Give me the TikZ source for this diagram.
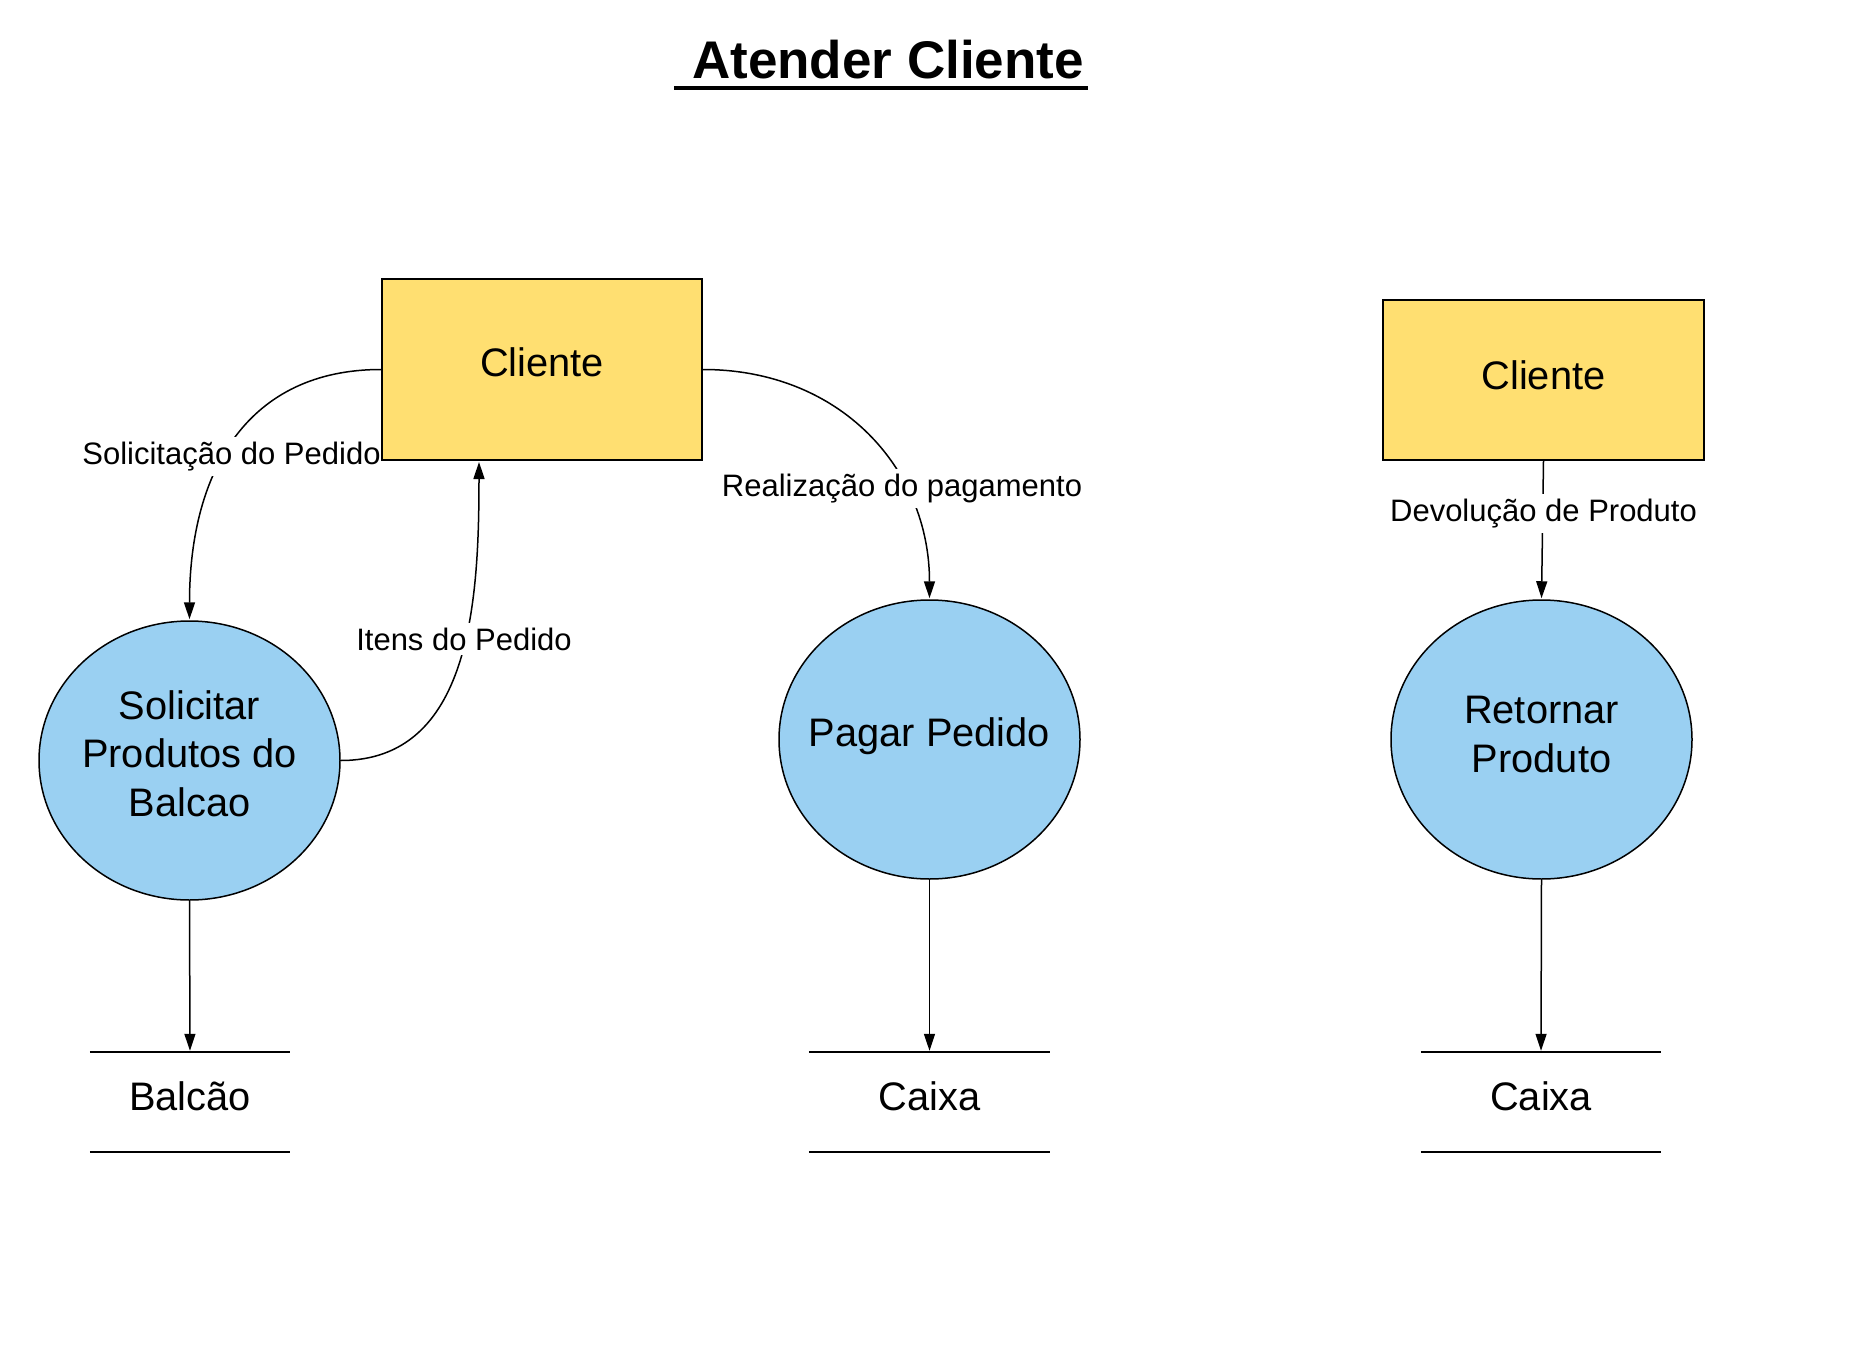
\documentclass[tikz,border=0pt]{standalone}
\usepackage{fontspec}
\setmainfont{Liberation Sans}
\usetikzlibrary{arrows.meta,shapes.geometric,calc}
\pgfdeclarelayer{bg}
\pgfsetlayers{bg,main}
\definecolor{cyellow}{HTML}{FFDF71}
\definecolor{cblue}{HTML}{9AD0F2}
\begin{document}
\begin{tikzpicture}[x=1pt,y=-1pt,
  ent/.style={draw=black, line width=2pt, fill=cyellow, inner sep=0pt,
    font=\fontsize{39.8}{47}\selectfont, text height=28pt},
  proc/.style={ellipse, draw=black, line width=1.5pt, fill=cblue,
    minimum width=301pt, minimum height=279pt, inner sep=0pt},
  ptext/.style={font=\fontsize{39.8}{48.4}\selectfont, align=center, inner sep=0pt},
  store/.style={minimum height=100pt, inner sep=0pt,
    font=\fontsize{39.8}{47}\selectfont, text height=28pt, text depth=12pt},
  storeline/.style={line width=2.5pt},
  flow/.style={line width=1.5pt, -{Triangle[length=17pt,width=11pt]}, shorten >=1pt},
  flowlbl/.style={fill=white, inner xsep=1pt, inner ysep=5pt,
    font=\fontsize{31}{36}\selectfont, anchor=base}
]
\useasboundingbox (0,0) rectangle (1875,1351);

% title
\node[font=\fontsize{53}{60}\selectfont\bfseries, anchor=base west, inner sep=0pt]
  (title) at (692,79) {Atender Cliente};
\draw[line width=3.3pt] (674,88) -- (1088,88);

% external entities
\node[ent, minimum width=320pt, minimum height=181pt, text depth=15pt]
  (b1) at (542,369.5) {Cliente};
\node[ent, minimum width=321pt, minimum height=160pt, text depth=10pt]
  (b2) at (1543.5,380) {Cliente};

% processes
\node[proc, label={[ptext, yshift=7pt]center:Solicitar\\Produtos do\\Balcao}]
  (p1) at (189.5,760.5) {};
\node[proc, label={[ptext, yshift=2.9pt]center:Pagar Pedido}]
  (p2) at (929.5,739.5) {};
\node[proc, label={[ptext, yshift=5pt]center:Retornar\\Produto}]
  (p3) at (1541.5,739.5) {};

% data stores
\node[store, minimum width=200pt] (s1) at (190,1102) {Balcão};
\node[store, minimum width=241pt] (s2) at (929.5,1102) {Caixa};
\node[store, minimum width=240pt] (s3) at (1541,1102) {Caixa};
\foreach \s in {s1,s2,s3}{
  \draw[storeline] (\s.north west) -- (\s.north east);
  \draw[storeline] (\s.south west) -- (\s.south east);
}

% flows
\begin{pgfonlayer}{bg}
\draw[flow] (b1.west) .. controls +(-132,0) and +(0,-151) .. (p1.north);
\draw[flow] (p1.east) .. controls +(130,0) and +(0,140) .. ($(b1.south west)+(98,0)$);
\draw[flow] (b1.east) .. controls +(138,0) and +(0,-130) .. (p2.north);
\draw[flow] (b2.south) -- (p3.north);
\draw[flow] (p1.south) -- (s1.north);
\draw[flow] (p2.south) -- (s2.north);
\draw[flow] (p3.south) -- (s3.north);
\node[flowlbl] (l1) at (231.5,464) {Solicitação do Pedido};
\node[flowlbl] (l2) at (464,650) {Itens do Pedido};
\node[flowlbl] (l3) at (902,496) {Realização do pagamento};
\node[flowlbl] (l4) at (1543.5,521) {Devolução de Produto};
\end{pgfonlayer}
\end{tikzpicture}
\end{document}
